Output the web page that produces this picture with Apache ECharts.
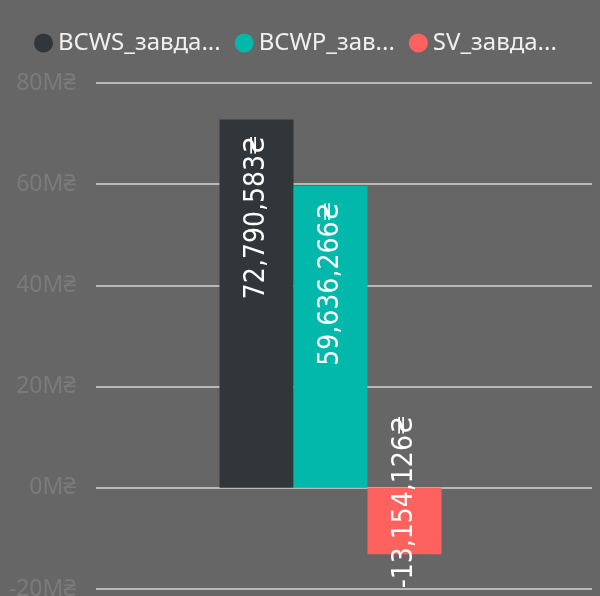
<!DOCTYPE html>
<html>
<head>
<meta charset="utf-8">
<script src="https://cdn.jsdelivr.net/npm/echarts@6/dist/echarts.min.js"></script>
<style>
  html, body { margin: 0; padding: 0; background: #666666; }
  #chart { width: 600px; height: 596px; }
</style>
</head>
<body>
<div id="chart"></div>
<script>
// дані з графіка
var seriesNames = ['BCWS_завда...', 'BCWP_зав...', 'SV_завда...'];
var seriesValues = [72790583, 59636266, -13154126];
var seriesColors = ['#31363a', '#01b8aa', '#fd625e'];
var yTicks = [-20000000, 0, 20000000, 40000000, 60000000, 80000000];

var chart = echarts.init(document.getElementById('chart'));

function fmtMoney(v) {
  var s = Math.abs(v).toString().replace(/\B(?=(\d{3})+(?!\d))/g, ',');
  return (v < 0 ? '-' : '') + s + '₴';
}

var labelFont = '"Liberation Sans Narrow", "DejaVu Sans Condensed", sans-serif';

var series = seriesNames.map(function (name, i) {
  var neg = seriesValues[i] < 0;
  return {
    name: name,
    type: 'bar',
    xAxisIndex: 1,
    yAxisIndex: 1,
    barWidth: 74,
    barGap: '0%',
    itemStyle: { color: seriesColors[i] },
    label: {
      show: true,
      rotate: 90,
      position: neg ? 'bottom' : 'insideTop',
      distance: neg ? 34 : 16,
      align: neg ? 'left' : 'right',
      verticalAlign: 'middle',
      color: '#ffffff',
      fontFamily: labelFont,
      fontSize: 28,
      formatter: function (p) { return fmtMoney(p.value); }
    },
    data: [seriesValues[i]]
  };
});

var option = {
  backgroundColor: '#666666',
  animation: false,
  legend: {
    data: seriesNames.map(function (n, i) {
      return { name: n, itemStyle: { color: seriesColors[i] } };
    }),
    left: 29,
    top: 26,
    icon: 'circle',
    itemWidth: 19,
    itemHeight: 19,
    itemGap: 14,
    textStyle: { color: '#f0f0f0', fontSize: 24, fontFamily: '"Noto Sans", sans-serif' }
  },
  grid: [
    { left: 96, right: 8, top: 83, bottom: 7, outerBoundsMode: 'none' },
    { left: 96, right: 35, top: 83, bottom: 7, outerBoundsMode: 'none' }
  ],
  xAxis: [
    { gridIndex: 0, type: 'category', data: [''], show: false },
    { gridIndex: 1, type: 'category', data: [''], show: false }
  ],
  yAxis: [
    {
      gridIndex: 0,
      type: 'value',
      min: yTicks[0],
      max: yTicks[yTicks.length - 1],
      interval: 20000000,
      axisLine: { show: false },
      axisTick: { show: false },
      axisLabel: {
        color: '#7b7b7b',
        fontSize: 23,
        margin: 20,
        fontFamily: '"Noto Sans", sans-serif',
        formatter: function (v) { return (v / 1000000) + 'M₴'; }
      },
      splitLine: { lineStyle: { color: '#b8b8b8', width: 2 } }
    },
    {
      gridIndex: 1,
      type: 'value',
      min: yTicks[0],
      max: yTicks[yTicks.length - 1],
      interval: 20000000,
      show: false,
      splitLine: { show: false }
    }
  ],
  series: series
};

chart.setOption(option);
</script>
</body>
</html>
